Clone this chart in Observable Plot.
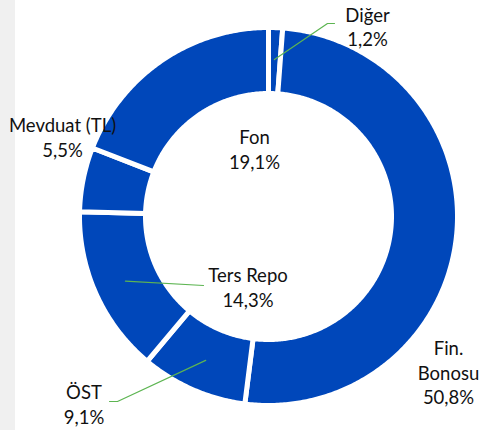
<!DOCTYPE html>
<html><head><meta charset="utf-8">
<script src="https://cdn.jsdelivr.net/npm/d3@7"></script>
<script src="https://cdn.jsdelivr.net/npm/@observablehq/plot@0.6"></script>
<style>
body{margin:0;background:#fff;}
#chart{position:relative;width:479px;height:430px;overflow:hidden;}
#strip{position:absolute;left:0;top:0;width:15px;height:430px;background:#f0f0f0;}
#chart svg{position:absolute;left:0;top:0;}
</style></head><body><div id="chart"><div id="strip"></div></div>
<script>
// ---- data ----
const categories = ["Diğer", "Fin. Bonosu", "ÖST", "Ters Repo", "Mevduat (TL)", "Fon"];
const shares = [1.2, 50.8, 9.1, 14.3, 5.5, 19.1];
const shareLabels = ["1,2%", "50,8%", "9,1%", "14,3%", "5,5%", "19,1%"];
const nameLabels = ["Diğer", "Fin.\nBonosu", "ÖST", "Ters Repo", "Mevduat (TL)", "Fon"];

// ---- layout (relative to donut centre, y up) ----
const R = 189, r0 = 123, rLeader = 157;
const labelPos = {
  "Diğer": [99, 190.5],
  "Fin. Bonosu": [180, -155],
  "ÖST": [-184.5, -187],
  "Ters Repo": [-20.5, -70],
  "Mevduat (TL)": [-206, 80],
  "Fon": [-14, 68]
};
const leaderEnds = {
  "Diğer": [[59, 193], [66, 193]],
  "ÖST": [[-151, -185], [-159, -185]],
  "Ters Repo": [[-65, -69]]
};
const BLUE = "#0047BA", GREEN = "#5DB552";

// ---- geometry from data ----
const total = d3.sum(shares);
let acc = 0;
const slices = categories.map((c, i) => {
  const a0 = acc / total * 2 * Math.PI;
  acc += shares[i];
  const a1 = acc / total * 2 * Math.PI;
  return {c, i, a0, a1, mid: (a0 + a1) / 2};
});
const slicePts = [];
for (const s of slices) {
  const n = Math.max(4, Math.ceil((s.a1 - s.a0) / 0.01));
  const ring = [];
  for (let k = 0; k <= n; k++) { const a = s.a0 + (s.a1 - s.a0) * k / n; ring.push([R * Math.sin(a), R * Math.cos(a)]); }
  for (let k = n; k >= 0; k--) { const a = s.a0 + (s.a1 - s.a0) * k / n; ring.push([r0 * Math.sin(a), r0 * Math.cos(a)]); }
  ring.push(ring[0]);
  ring.forEach(p => slicePts.push({c: s.c, x: p[0], y: p[1]}));
}
const leaderPts = [];
for (const s of slices) {
  if (!leaderEnds[s.c]) continue;
  leaderPts.push({c: s.c, x: rLeader * Math.sin(s.mid), y: rLeader * Math.cos(s.mid)});
  leaderEnds[s.c].forEach(p => leaderPts.push({c: s.c, x: p[0], y: p[1]}));
}
const labels = slices.map(s => ({
  text: nameLabels[s.i] + "\n" + shareLabels[s.i],
  x: labelPos[s.c][0], y: labelPos[s.c][1]
}));

const chart = Plot.plot({
  width: 479, height: 430,
  margin: 0, inset: 0,
  style: {background: "transparent"},
  x: {domain: [-268, 211], range: [0, 479], axis: null},
  y: {domain: [-214, 216], range: [430, 0], axis: null},
  marks: [
    Plot.line(slicePts, {x: "x", y: "y", z: "c", fill: BLUE, stroke: "white", strokeWidth: 5, strokeLinejoin: "miter", strokeMiterlimit: 10}),
    Plot.line(leaderPts, {x: "x", y: "y", z: "c", stroke: GREEN, strokeWidth: 1.2}),
    Plot.text(labels, {x: "x", y: "y", text: "text", fontFamily: "Lato", fontSize: 18.5, lineHeight: 1.35, fill: "#111", textAnchor: "middle"})
  ]
});
document.getElementById("chart").appendChild(chart);
</script>
</body></html>
